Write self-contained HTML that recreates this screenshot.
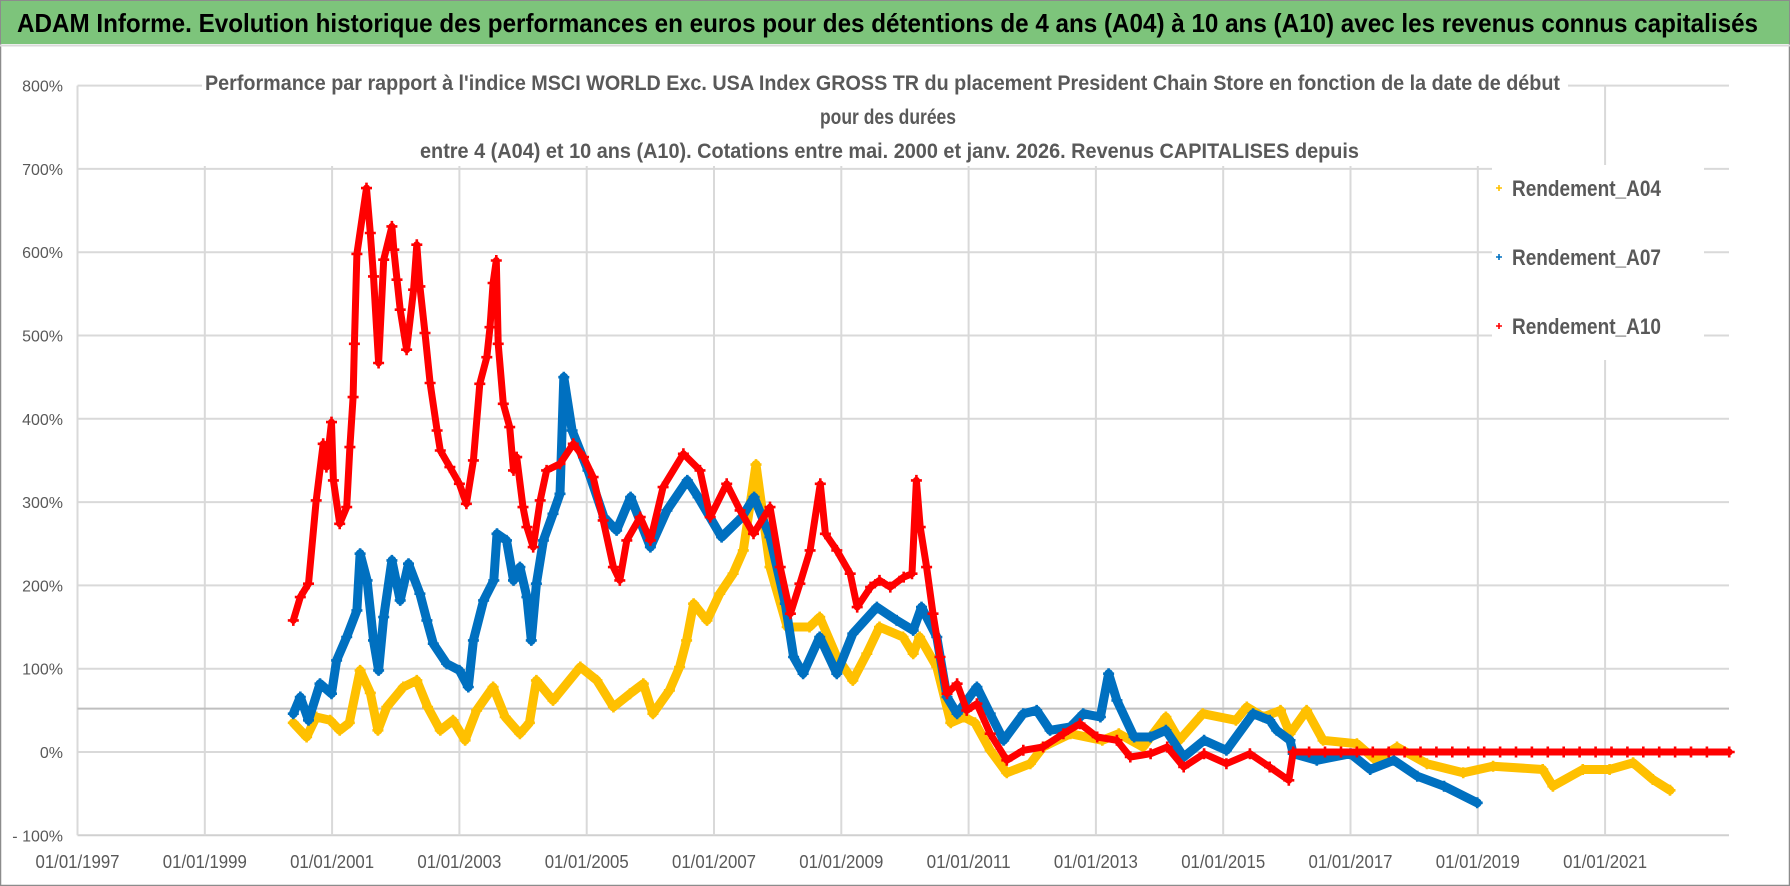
<!DOCTYPE html>
<html><head><meta charset="utf-8">
<style>
html,body{margin:0;padding:0;background:#fff;}
svg{display:block;}
</style></head>
<body>
<svg id="chart" width="1790" height="886" viewBox="0 0 1790 886" xmlns="http://www.w3.org/2000/svg">
  <rect x="0" y="0" width="1790" height="886" fill="#fff"/>
  <rect x="0.5" y="0.5" width="1789" height="885" fill="none" stroke="#8c8c8c" stroke-width="1.5"/>
  <rect x="1" y="1" width="1788" height="43" fill="#7dc47b"/>
  <line x1="0" y1="45.5" x2="1790" y2="45.5" stroke="#d9d9d9" stroke-width="2"/>
  <text x="17" y="32" font-family="'Liberation Sans Narrow','Liberation Sans',sans-serif" font-weight="bold" font-size="26" fill="#000" textLength="1741" lengthAdjust="spacingAndGlyphs">ADAM Informe. Evolution historique des performances en euros pour des détentions de 4 ans (A04) à 10 ans (A10) avec les revenus connus capitalisés</text>
  <g id="grid"></g>
  <g id="series"></g>
  <rect x="202" y="62" width="1366" height="104" fill="#fff"/>
  <text x="205" y="90" font-family="'Liberation Sans Narrow','Liberation Sans',sans-serif" font-weight="bold" font-size="21" fill="#595959" textLength="1355" lengthAdjust="spacingAndGlyphs">Performance par rapport à l'indice MSCI WORLD Exc. USA Index GROSS TR  du placement President Chain Store  en fonction de la date de début</text>
  <text x="888" y="124" text-anchor="middle" font-family="'Liberation Sans Narrow','Liberation Sans',sans-serif" font-weight="bold" font-size="21" fill="#595959" textLength="136" lengthAdjust="spacingAndGlyphs">pour des durées</text>
  <text x="420" y="158" font-family="'Liberation Sans Narrow','Liberation Sans',sans-serif" font-weight="bold" font-size="21" fill="#595959" textLength="939" lengthAdjust="spacingAndGlyphs">entre 4 (A04) et 10 ans (A10). Cotations entre mai. 2000 et janv. 2026. Revenus CAPITALISES depuis</text>
  <g>
    <rect x="1492" y="165" width="212" height="195" fill="#fff"/>
    <g>
      <path d="M1496 188h6M1499 185v6" stroke="#ffc000" stroke-width="1.6"/>
      <text x="1512" y="196" font-family="'Liberation Sans Narrow','Liberation Sans',sans-serif" font-weight="bold" font-size="22" fill="#595959" textLength="149" lengthAdjust="spacingAndGlyphs">Rendement_A04</text>
    </g>
    <g>
      <path d="M1496 257h6M1499 254v6" stroke="#0070c0" stroke-width="1.6"/>
      <text x="1512" y="265" font-family="'Liberation Sans Narrow','Liberation Sans',sans-serif" font-weight="bold" font-size="22" fill="#595959" textLength="149" lengthAdjust="spacingAndGlyphs">Rendement_A07</text>
    </g>
    <g>
      <path d="M1496 326h6M1499 323v6" stroke="#ff0000" stroke-width="1.6"/>
      <text x="1512" y="334" font-family="'Liberation Sans Narrow','Liberation Sans',sans-serif" font-weight="bold" font-size="22" fill="#595959" textLength="149" lengthAdjust="spacingAndGlyphs">Rendement_A10</text>
    </g>
  </g>
  <g id="axes"></g>
</svg>
<script>
const yTicks = [800,700,600,500,400,300,200,100,0,-100];
const yTickLabels = ["800%","700%","600%","500%","400%","300%","200%","100%","0%","- 100%"];
const xTicks = [1997,1999,2001,2003,2005,2007,2009,2011,2013,2015,2017,2019,2021];
const xTickLabels = ["01/01/1997","01/01/1999","01/01/2001","01/01/2003","01/01/2005","01/01/2007","01/01/2009","01/01/2011","01/01/2013","01/01/2015","01/01/2017","01/01/2019","01/01/2021"];
const referenceValue = 52;

const a04Dates = [2000.39,2000.6,2000.75,2000.97,2001.12,2001.27,2001.44,2001.6,2001.72,2001.86,2002.12,2002.33,2002.5,2002.7,2002.9,2003.09,2003.27,2003.53,2003.72,2003.95,2004.1,2004.21,2004.47,2004.9,2005.16,2005.42,2005.68,2005.89,2006.04,2006.3,2006.46,2006.57,2006.68,2006.89,2007.09,2007.3,2007.46,2007.66,2007.88,2008.15,2008.5,2008.66,2008.93,2009.18,2009.4,2009.6,2009.97,2010.13,2010.23,2010.5,2010.72,2010.93,2011.1,2011.34,2011.6,2011.97,2012.17,2012.6,2013.1,2013.36,2013.74,2014.1,2014.31,2014.68,2015.2,2015.37,2015.63,2015.9,2016.05,2016.31,2016.57,2017.1,2017.4,2017.73,2018.2,2018.77,2019.24,2020.02,2020.18,2020.65,2021.07,2021.44,2021.75,2022.02];
const a04Values = [35,18,42,38,26,35,98,71,26,54,78,86,54,26,38,14,50,78,42,22,35,86,62,102,86,54,70,82,46,74,102,134,178,158,190,214,242,345,222,150,150,162,114,86,118,150,138,118,138,102,35,42,35,2,-25,-14,6,22,14,22,6,42,14,46,38,54,42,50,22,50,14,10,-10,6,-14,-25,-17,-21,-41,-21,-21,-13,-33,-46];

const a07Dates = [2000.39,2000.5,2000.63,2000.81,2000.99,2001.07,2001.23,2001.39,2001.44,2001.55,2001.65,2001.73,2001.81,2001.94,2002.07,2002.2,2002.38,2002.49,2002.59,2002.8,2003.0,2003.14,2003.22,2003.38,2003.54,2003.59,2003.74,2003.85,2003.95,2004.06,2004.13,2004.21,2004.32,2004.47,2004.58,2004.64,2004.77,2005.02,2005.27,2005.47,2005.69,2006.0,2006.26,2006.58,2006.75,2007.12,2007.44,2007.63,2007.88,2008.12,2008.25,2008.4,2008.66,2008.93,2009.18,2009.56,2009.87,2010.13,2010.26,2010.5,2010.66,2010.82,2011.13,2011.34,2011.55,2011.86,2012.07,2012.28,2012.6,2012.8,2013.07,2013.2,2013.33,2013.6,2013.86,2014.1,2014.38,2014.7,2015.05,2015.47,2015.73,2015.84,2016.05,2016.1,2016.47,2017.0,2017.31,2017.68,2018.05,2018.47,2018.99];
const a07Values = [46,66,38,82,70,110,138,170,238,206,134,98,162,230,182,226,190,158,130,106,98,78,134,182,206,262,254,206,222,186,134,202,254,286,310,450,386,338,282,266,306,246,290,326,306,258,282,306,258,178,114,94,138,94,142,174,158,146,174,138,66,46,78,46,14,46,50,26,30,46,42,94,62,18,18,26,-6,14,2,46,38,26,14,-2,-10,-2,-21,-10,-29,-41,-61];

const a10Dates = [2000.39,2000.5,2000.63,2000.75,2000.86,2000.91,2000.99,2001.02,2001.12,2001.23,2001.28,2001.33,2001.35,2001.39,2001.54,2001.6,2001.65,2001.73,2001.81,2001.94,2001.97,2002.02,2002.07,2002.17,2002.28,2002.33,2002.38,2002.46,2002.54,2002.65,2002.7,2002.85,2003.0,2003.11,2003.22,2003.32,2003.43,2003.48,2003.53,2003.58,2003.61,2003.69,2003.79,2003.85,2003.9,2004.0,2004.06,2004.16,2004.27,2004.37,2004.58,2004.79,2004.95,2005.1,2005.26,2005.42,2005.52,2005.63,2005.84,2006.0,2006.2,2006.52,2006.78,2006.94,2007.2,2007.41,2007.62,2007.88,2008.04,2008.2,2008.35,2008.51,2008.67,2008.75,2008.93,2009.14,2009.25,2009.46,2009.6,2009.77,2009.98,2010.11,2010.18,2010.24,2010.34,2010.44,2010.55,2010.66,2010.82,2010.97,2011.13,2011.34,2011.6,2011.86,2012.17,2012.49,2012.75,2013.02,2013.33,2013.54,2013.86,2014.12,2014.38,2014.7,2015.05,2015.42,2015.73,2016.03,2016.1,2016.35,2016.6,2016.85,2017.1,2017.35,2017.6,2017.85,2018.1,2018.35,2018.6,2018.85,2019.1,2019.35,2019.6,2019.85,2020.1,2020.35,2020.6,2020.85,2021.1,2021.35,2021.6,2021.85,2022.1,2022.35,2022.6,2022.95];
const a10Values = [158,186,202,302,370,342,396,326,274,294,366,426,490,598,677,623,571,467,591,631,603,567,531,483,555,609,559,503,443,386,362,342,322,298,350,442,474,510,563,590,490,418,390,338,354,294,270,246,302,338,346,370,354,330,278,222,206,254,282,254,318,358,338,282,322,290,262,294,222,166,202,242,322,262,242,214,174,198,206,198,210,214,326,270,222,166,114,70,82,50,58,22,-10,2,6,22,34,18,14,-6,-2,6,-18,-2,-14,-2,-18,-34,0,0,0,0,0,0,0,0,0,0,0,0,0,0,0,0,0,0,0,0,0,0,0,0,0,0,0,0];

const NS = "http://www.w3.org/2000/svg";
const PL = 77.5, PR = 1729, x0 = 1997, pxPerYear = 63.65;
const Y0 = 752, pxPer100 = 83.3;
function xScale(d){ return PL + (d - x0) * pxPerYear; }
function yScale(v){ return Y0 - v / 100 * pxPer100; }

const grid = document.getElementById('grid');
const axes = document.getElementById('axes');
const series = document.getElementById('series');

yTicks.forEach((t, i) => {
  const y = yScale(t);
  const ln = document.createElementNS(NS, 'line');
  ln.setAttribute('x1', PL); ln.setAttribute('x2', PR);
  ln.setAttribute('y1', y); ln.setAttribute('y2', y);
  ln.setAttribute('stroke', t === -100 ? '#d0d0d0' : '#d9d9d9');
  ln.setAttribute('stroke-width', 2);
  
  
  grid.appendChild(ln);
  const tx = document.createElementNS(NS, 'text');
  tx.setAttribute('x', 63); tx.setAttribute('y', y + 6);
  tx.setAttribute('text-anchor', 'end');
  tx.setAttribute('font-family', "'Liberation Sans Narrow','Liberation Sans',sans-serif");
  tx.setAttribute('font-size', '16');
  tx.setAttribute('fill', '#595959');
  tx.textContent = yTickLabels[i];
  
  
  axes.appendChild(tx);
});
xTicks.forEach((t, i) => {
  const x = xScale(t);
  if (i > 0) {
    const ln = document.createElementNS(NS, 'line');
    ln.setAttribute('x1', x); ln.setAttribute('x2', x);
    ln.setAttribute('y1', yScale(800)); ln.setAttribute('y2', yScale(-100));
    ln.setAttribute('stroke', '#d9d9d9');
    ln.setAttribute('stroke-width', 2);
    
    
    grid.appendChild(ln);
  }
  const tx = document.createElementNS(NS, 'text');
  tx.setAttribute('x', x); tx.setAttribute('y', 868);
  tx.setAttribute('text-anchor', 'middle');
  tx.setAttribute('font-family', "'Liberation Sans Narrow','Liberation Sans',sans-serif");
  tx.setAttribute('font-size', '18');
  tx.setAttribute('fill', '#595959');
  tx.setAttribute('textLength', '84');
  tx.setAttribute('lengthAdjust', 'spacingAndGlyphs');
  tx.textContent = xTickLabels[i];
  
  
  axes.appendChild(tx);
});
const yAxis = document.createElementNS(NS, 'line');
yAxis.setAttribute('x1', PL); yAxis.setAttribute('x2', PL);
yAxis.setAttribute('y1', yScale(800)); yAxis.setAttribute('y2', yScale(-100));
yAxis.setAttribute('stroke', '#d9d9d9'); yAxis.setAttribute('stroke-width', 2);


grid.appendChild(yAxis);
const ref = document.createElementNS(NS, 'line');
ref.setAttribute('x1', PL); ref.setAttribute('x2', PR);
ref.setAttribute('y1', yScale(referenceValue)); ref.setAttribute('y2', yScale(referenceValue));
ref.setAttribute('stroke', '#bfbfbf'); ref.setAttribute('stroke-width', 2);


grid.appendChild(ref);

function drawSeries(dates, values, color, name, width) {
  const g = document.createElementNS(NS, 'g');
  
  
  const pts = dates.map((d, i) => xScale(d).toFixed(1) + ',' + yScale(values[i]).toFixed(1)).join(' ');
  const pl = document.createElementNS(NS, 'polyline');
  pl.setAttribute('points', pts);
  pl.setAttribute('fill', 'none');
  pl.setAttribute('stroke', color);
  pl.setAttribute('stroke-width', width);
  pl.setAttribute('stroke-linejoin', 'round');
  pl.setAttribute('stroke-linecap', 'round');
  
  
  g.appendChild(pl);
  let d = '';
  dates.forEach((dt, i) => {
    const x = xScale(dt), y = yScale(values[i]);
    d += 'M' + (x - 5.5).toFixed(1) + ' ' + y.toFixed(1) + 'h11M' + x.toFixed(1) + ' ' + (y - 5.5).toFixed(1) + 'v11';
  });
  const mk = document.createElementNS(NS, 'path');
  mk.setAttribute('d', d);
  mk.setAttribute('stroke', color);
  mk.setAttribute('stroke-width', 2.6);
  mk.setAttribute('fill', 'none');
  
  
  g.appendChild(mk);
  series.appendChild(g);
}
drawSeries(a04Dates, a04Values, '#ffc000', 'series-a04', 9);
drawSeries(a07Dates, a07Values, '#0070c0', 'series-a07', 9);
drawSeries(a10Dates, a10Values, '#ff0000', 'series-a10', 7);
</script>
</body></html>
